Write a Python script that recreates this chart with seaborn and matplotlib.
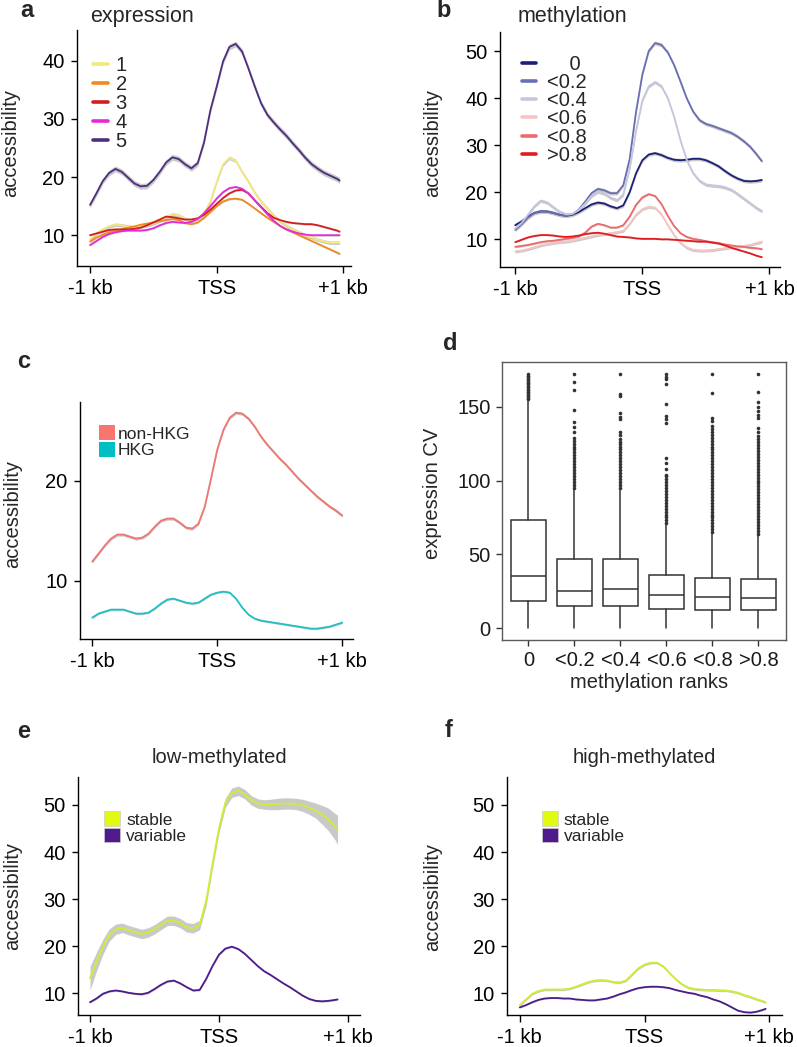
import numpy as np
import pandas as pd
import matplotlib
matplotlib.use("Agg")
import matplotlib.pyplot as plt
import seaborn as sns
from matplotlib.lines import Line2D
from matplotlib.patches import Patch

sns.set_style("ticks")
plt.rcParams['font.family'] = ['Liberation Sans', 'DejaVu Sans']

# --- data ---
pos = list(range(-1000, 901, 50))

# a: accessibility by expression level
x_a = pos + [950, 970]
expr_names = ['1', '2', '3', '4', '5']
expr_colors = ['#f5e97a', '#f08a1c', '#d41e1e', '#e42ad8', '#4f2d7f']
expr1 = [9.3, 10.3, 11.0, 11.5, 11.8, 11.7, 11.5, 11.4, 11.5, 11.7, 12.0, 12.5, 13.1, 13.6, 13.4, 12.8, 12.5, 12.9,
         13.8, 15.8, 19.2, 22.2, 23.3, 22.8, 20.9, 19.2, 17.3, 15.8, 14.6, 13.4, 12.4, 11.6, 11.0, 10.5, 10.0, 9.6,
         9.2, 8.9, 8.7, 8.7, 8.7]
expr2 = [8.9, 9.6, 10.1, 10.5, 10.8, 11.0, 11.3, 11.5, 11.8, 12.0, 12.2, 12.4, 12.6, 12.8, 12.6, 12.1, 11.9, 12.2,
         13.0, 14.0, 15.0, 15.8, 16.2, 16.3, 16.1, 15.4, 14.6, 13.8, 13.0, 12.3, 11.6, 11.0, 10.5, 10.0, 9.5, 9.0,
         8.5, 8.0, 7.5, 7.0, 6.8]
expr3 = [10.0, 10.3, 10.6, 10.9, 11.0, 11.0, 11.0, 11.1, 11.3, 11.7, 12.2, 12.7, 13.2, 13.1, 12.9, 12.7, 12.7, 12.9,
         13.5, 14.4, 15.4, 16.4, 17.2, 17.7, 17.8, 17.2, 16.0, 14.9, 13.8, 13.0, 12.6, 12.3, 12.1, 12.0, 11.9, 11.9,
         11.7, 11.4, 11.1, 10.8, 10.6]
expr4 = [8.3, 9.0, 9.7, 10.2, 10.5, 10.7, 10.8, 10.8, 10.8, 10.9, 11.2, 11.7, 12.1, 12.3, 12.2, 12.1, 12.3, 12.8,
         13.8, 15.0, 16.3, 17.4, 18.1, 18.3, 18.0, 17.2, 16.0, 14.8, 13.6, 12.5, 11.6, 11.0, 10.6, 10.3, 10.1, 10.0,
         10.0, 10.0, 10.0, 10.0, 10.0]
expr5 = [15.2, 17.2, 19.3, 20.7, 21.4, 20.9, 19.9, 18.9, 18.4, 18.5, 19.5, 20.9, 22.5, 23.4, 23.1, 22.2, 21.5, 22.4,
         26.0, 31.5, 35.6, 39.9, 42.4, 42.9, 41.6, 38.7, 35.6, 32.7, 30.7, 29.4, 28.2, 27.1, 25.8, 24.6, 23.3, 22.2,
         21.4, 20.7, 20.2, 19.7, 19.4]
expr_se = [0.3, 0.15, 0.15, 0.15, 0.5]

# b: accessibility by methylation level
x_b = pos + [940]
meth_names = ['    0', '<0.2', '<0.4', '<0.6', '<0.8', '>0.8']
meth_colors = ['#1c1f7a', '#6a6eb3', '#c5c7e0', '#f6c4c4', '#ee6a6a', '#e31a1c']
meth0 = [13.0, 13.8, 14.8, 15.6, 15.9, 15.9, 15.6, 15.2, 15.0, 15.2, 15.8, 16.6, 17.4, 17.8, 17.6, 17.0, 16.6, 17.2,
         20.0, 24.0, 26.8, 28.0, 28.3, 27.9, 27.3, 26.9, 26.8, 26.9, 27.1, 27.1, 26.8, 26.2, 25.5, 24.5, 23.6, 22.9,
         22.4, 22.3, 22.4, 22.6]
meth02 = [12.0, 13.2, 14.6, 15.6, 16.0, 15.9, 15.6, 15.2, 15.0, 15.3, 16.3, 18.0, 19.8, 20.7, 20.4, 19.8, 19.8, 21.5,
          27.0, 37.0, 45.0, 50.0, 51.7, 51.3, 49.7, 47.0, 43.5, 39.9, 37.1, 35.3, 34.5, 34.1, 33.6, 33.1, 32.6, 31.8,
          30.8, 29.6, 28.0, 26.6]
meth04 = [12.3, 13.5, 15.2, 17.0, 18.2, 17.8, 16.8, 15.8, 15.3, 15.4, 16.2, 17.6, 19.2, 20.1, 19.7, 18.8, 18.3, 19.5,
          25.0, 33.0, 39.5, 42.5, 43.4, 42.5, 40.0, 36.0, 31.0, 26.8, 24.0, 22.4, 21.6, 21.4, 21.3, 21.0, 20.5, 19.6,
          18.6, 17.6, 16.6, 16.0]
meth06 = [7.4, 7.6, 7.9, 8.3, 8.7, 9.0, 9.2, 9.4, 9.5, 9.7, 10.0, 10.3, 10.6, 10.9, 11.1, 11.3, 11.5, 11.8,
          13.3, 15.2, 16.4, 16.9, 16.7, 15.3, 13.0, 10.9, 9.2, 8.2, 7.7, 7.6, 7.6, 7.7, 7.9, 8.1, 8.3, 8.4,
          8.6, 8.8, 9.2, 9.5]
meth08 = [8.4, 8.6, 8.8, 9.1, 9.4, 9.6, 9.7, 9.9, 10.1, 10.3, 10.6, 11.4, 12.7, 13.3, 13.0, 12.5, 12.5, 13.0,
          14.8, 17.3, 18.9, 19.6, 19.2, 17.5, 15.0, 12.8, 11.3, 10.5, 10.1, 9.9, 9.6, 9.4, 9.2, 8.9, 8.7, 8.5,
          8.4, 8.2, 8.1, 7.9]
meth1 = [9.4, 9.9, 10.4, 10.7, 10.9, 10.9, 10.8, 10.6, 10.5, 10.6, 10.8, 11.1, 11.3, 11.4, 11.2, 10.9, 10.6, 10.5,
         10.4, 10.2, 10.1, 10.1, 10.1, 10.0, 10.0, 9.9, 9.8, 9.7, 9.6, 9.5, 9.5, 9.3, 9.1, 8.7, 8.2, 7.8,
         7.4, 7.0, 6.5, 6.2]
meth_se = [0.4, 0.4, 0.35, 0.3, 0.2, 0.15]

# c: housekeeping vs non-housekeeping genes
x_c = pos + [950, 1000]
hkg_names = ['non-HKG', 'HKG']
hkg_colors = ['#ee7870', '#22bfc5']
hkg_patch = ['#f8766d', '#00bfc4']
nonhkg = [11.9, 12.7, 13.5, 14.2, 14.6, 14.6, 14.4, 14.2, 14.3, 14.7, 15.4, 16.0, 16.2, 16.2, 15.8, 15.3, 15.2, 15.7,
          17.4, 20.2, 23.1, 25.1, 26.3, 26.8, 26.7, 26.2, 25.4, 24.4, 23.6, 22.9, 22.2, 21.6, 20.9, 20.2, 19.6, 19.0,
          18.4, 17.9, 17.4, 17.0, 16.5]
hkg = [6.3, 6.7, 6.9, 7.1, 7.1, 7.1, 6.9, 6.7, 6.7, 6.8, 7.2, 7.7, 8.1, 8.2, 8.0, 7.8, 7.7, 7.8,
       8.2, 8.6, 8.8, 8.9, 8.8, 8.2, 7.3, 6.6, 6.2, 6.0, 5.9, 5.8, 5.7, 5.6, 5.5, 5.4, 5.3, 5.2,
       5.2, 5.3, 5.4, 5.6, 5.8]
hkg_se = [0.15, 0.1]

# d: expression CV by methylation rank (box statistics)
ranks = ['0', '<0.2', '<0.4', '<0.6', '<0.8', '>0.8']
cv_q1 = [18.5, 15.3, 15.1, 13.3, 12.4, 12.2]
cv_med = [35.1, 25.5, 26.8, 22.3, 20.9, 20.3]
cv_q3 = [73.6, 47.1, 46.8, 36.3, 33.8, 33.3]
cv_lo = [0, 0, 0, 0, 0, 0]
cv_hi = [154, 94, 94, 70, 64, 63]
cv_fliers = [
    [155, 156, 157, 158, 159, 160, 161, 162, 163, 164, 165, 166, 167, 168, 169, 170, 171, 172],
    [95, 97, 99, 101, 103, 105, 107, 109, 111, 113, 115, 117, 119, 121, 123, 125, 127, 129, 133, 136, 139.5,
     147.5, 161.5, 166.5, 172],
    [95, 97, 99, 101, 103, 105, 107, 109, 111, 113, 115, 117, 119, 121, 123, 125, 126, 128, 131, 133, 141.5,
     143, 145.5, 157, 158.5, 172],
    [71, 73, 75, 77, 79, 81, 83, 85, 87, 89, 91, 93, 95, 97, 99, 101, 103, 104, 108, 112, 115, 139, 141.5,
     143.5, 152, 165, 168.5, 170, 172],
    [65, 67, 69, 71, 73, 75, 77, 79, 81, 83, 85, 87, 89, 91, 93, 95, 97, 99, 101, 103, 105, 107, 109, 111,
     113, 115, 117, 119, 121, 123, 125, 127, 129, 131, 133, 135, 137, 140, 142.5, 159.5, 172],
    [64, 66, 68, 70, 72, 74, 76, 78, 80, 82, 84, 86, 88, 90, 92, 94, 96, 98, 100, 102, 104, 106, 108, 110,
     112, 114, 116, 118, 120, 122, 124, 126, 128, 130, 133, 135.5, 142, 144, 147, 150, 153, 160, 172],
]

# e/f: stable vs variable genes, low and high methylation
var_names = ['stable', 'variable']
var_colors = ['#d4ec30', '#4d1c8a']
var_patch = ['#e0fb10', '#4f1a8c']
x_e = pos + [920]
low_stable = [13.2, 16.7, 19.9, 22.4, 23.6, 23.9, 23.4, 23.0, 22.6, 22.9, 23.6, 24.5, 25.4, 25.4, 24.9, 24.0, 23.8,
              24.5, 29.5, 37.5, 45.0, 50.5, 52.6, 53.0, 52.3, 51.0, 50.3, 50.1, 50.1, 50.2, 50.3, 50.3, 50.2, 49.9,
              49.4, 48.8, 47.9, 46.9, 45.4, 44.7]
low_stable_se = [2.5, 2.0, 1.6, 1.3, 1.1, 1.0, 1.0, 1.0, 1.0, 1.0, 1.0, 1.0, 1.0, 1.0, 1.0, 1.0, 1.0,
                 1.0, 1.0, 1.0, 1.0, 1.0, 1.0, 1.0, 1.0, 1.0, 1.0, 1.0, 1.1, 1.2, 1.2, 1.2, 1.2, 1.3,
                 1.4, 1.6, 2.0, 2.4, 2.8, 3.1]
low_variable = [8.1, 8.9, 9.9, 10.4, 10.6, 10.4, 10.1, 9.9, 9.8, 10.1, 10.9, 11.8, 12.5, 12.7, 12.1, 11.3, 10.6,
                10.7, 13.0, 15.8, 18.2, 19.5, 19.9, 19.4, 18.4, 17.1, 15.8, 14.7, 13.9, 13.0, 12.1, 11.3, 10.4,
                9.5, 8.8, 8.4, 8.3, 8.4, 8.6, 8.7]
x_f = pos + [950, 970]
high_stable = [7.5, 8.7, 9.9, 10.5, 10.8, 10.8, 10.8, 10.8, 11.0, 11.4, 11.9, 12.4, 12.7, 12.8, 12.7, 12.4, 12.3,
               12.7, 14.0, 15.3, 16.1, 16.5, 16.5, 15.7, 14.3, 13.0, 11.9, 11.2, 10.9, 10.8, 10.7, 10.7, 10.6,
               10.6, 10.4, 10.1, 9.6, 9.2, 8.7, 8.3, 8.1]
high_variable = [7.0, 7.5, 8.1, 8.6, 8.9, 9.0, 9.0, 8.9, 8.9, 8.7, 8.6, 8.5, 8.5, 8.7, 8.9, 9.3, 9.8,
                 10.2, 10.7, 11.1, 11.3, 11.4, 11.4, 11.3, 11.1, 10.7, 10.4, 10.1, 9.9, 9.5, 9.2, 8.7, 8.3,
                 7.7, 7.0, 6.3, 6.0, 5.9, 6.1, 6.5, 6.7]

FS = 14.5
LFS = 12.5
W, H = 797, 1047
fig = plt.figure(figsize=(W / 100, H / 100), dpi=100)


def box(l, t, r, b):
    return [l / W, 1 - b / H, (r - l) / W, (b - t) / H]


def profile(ax, x, series, names, colors, se, xlim, ylim, yticks, ylab_x, ylab_y=0.5):
    frames = [pd.DataFrame({'pos': x, 'acc': vals, 'group': name}) for name, vals in zip(names, series)]
    df = pd.concat(frames, ignore_index=True)
    for vals, s in zip(series, se):
        v = np.asarray(vals)
        ax.fill_between(x, v - np.asarray(s), v + np.asarray(s), color='#c9c9c9', lw=0, zorder=1)
    sns.lineplot(data=df, x='pos', y='acc', hue='group', hue_order=names,
                 palette=dict(zip(names, colors)), errorbar=None, legend=False,
                 linewidth=1.3, ax=ax, zorder=2)
    ax.set_xlim(xlim)
    ax.set_ylim(ylim)
    ax.set_xticks([-1000, 0, 1000])
    ax.set_xticklabels(['-1 kb', 'TSS', '+1 kb'])
    ax.set_yticks(yticks)
    ax.set_xlabel('')
    ax.set_ylabel('accessibility', fontsize=FS)
    ax.yaxis.set_label_coords(ylab_x, ylab_y)
    sns.despine(ax=ax)
    for s in ['left', 'bottom']:
        ax.spines[s].set_linewidth(1.0)
        ax.spines[s].set_color('black')
    ax.tick_params(axis='x', length=5, width=1.0, pad=4.5, labelsize=FS, colors='black')
    ax.tick_params(axis='y', length=4, width=1.0, pad=5, labelsize=FS, colors='black')


# --- a ---
ax_a = fig.add_axes(box(77, 30, 351, 266))
profile(ax_a, x_a, [expr1, expr2, expr3, expr4, expr5], expr_names, expr_colors, expr_se,
        (-1103, 1060), (4.7, 45.3), [10, 20, 30, 40], -0.208, 0.523)
ax_a.legend(handles=[Line2D([], [], color=c, lw=2.6) for c in expr_colors], labels=expr_names,
            loc='upper left', bbox_to_anchor=(0.0586, 0.89), frameon=False, fontsize=FS,
            handlelength=0.72, handletextpad=0.4, labelspacing=0.0, borderpad=0, borderaxespad=0)

# --- b ---
ax_b = fig.add_axes(box(500, 31.7, 780, 266.7))
profile(ax_b, x_b, [meth0, meth02, meth04, meth06, meth08, meth1], meth_names, meth_colors, meth_se,
        (-1120, 1083), (4.18, 54.1), [10, 20, 30, 40, 50], -0.208, 0.528)
ax_b.legend(handles=[Line2D([], [], color=c, lw=2.6) for c in meth_colors], labels=meth_names,
            loc='upper left', bbox_to_anchor=(0.0775, 0.90), frameon=False, fontsize=FS,
            handlelength=0.69, handletextpad=0.55, labelspacing=-0.045, borderpad=0, borderaxespad=0)

# --- c ---
ax_c = fig.add_axes(box(80, 401.7, 353, 639.3))
profile(ax_c, x_c, [nonhkg, hkg], hkg_names, hkg_colors, hkg_se,
        (-1098, 1086), (4.13, 27.9), [10, 20], -0.2135, 0.527)
ax_c.legend(handles=[Patch(facecolor=c, edgecolor='none') for c in hkg_patch], labels=hkg_names,
            loc='upper left', bbox_to_anchor=(0.0707, 0.9), frameon=False, fontsize=LFS,
            handlelength=0.92, handleheight=0.95, handletextpad=0.12, labelspacing=0.0,
            borderpad=0, borderaxespad=0)

# --- d ---
ax_d = fig.add_axes(box(501.7, 361.7, 786, 640))
stats = [dict(label=r, q1=a, med=m, q3=b, whislo=lo, whishi=hi, fliers=fl)
         for r, a, m, b, lo, hi, fl in zip(ranks, cv_q1, cv_med, cv_q3, cv_lo, cv_hi, cv_fliers)]
ec = '#333333'
ax_d.bxp(stats, positions=range(len(ranks)), widths=0.76, showcaps=False, patch_artist=True,
         boxprops=dict(facecolor='white', edgecolor=ec, linewidth=1.1),
         medianprops=dict(color=ec, linewidth=1.1),
         whiskerprops=dict(color=ec, linewidth=1.1),
         flierprops=dict(marker='o', markersize=2.6, markerfacecolor=ec, markeredgecolor='none'))
ax_d.set_xlim(-0.58, 5.6)
ax_d.set_ylim(-7.9, 180.4)
ax_d.set_yticks([0, 50, 100, 150])
ax_d.set_xticks(range(len(ranks)))
ax_d.set_xticklabels(ranks)
for s in ax_d.spines.values():
    s.set_color('#5a5a5a')
    s.set_linewidth(1.0)
ax_d.tick_params(axis='both', length=4, width=1.0, color='#333333', labelsize=FS, labelcolor='#1a1a1a', pad=4)
ax_d.set_ylabel('expression CV', fontsize=FS)
ax_d.yaxis.set_label_coords(-0.211, 0.528)
ax_d.set_xlabel('methylation ranks', fontsize=FS)
ax_d.xaxis.set_label_coords(0.518, -0.12)

# --- e / f ---
ax_e = fig.add_axes(box(78.3, 776.7, 360, 1015))
profile(ax_e, x_e, [low_stable, low_variable], var_names, var_colors, [low_stable_se, 0.2],
        (-1091, 1094), (5.39, 56.0), [10, 20, 30, 40, 50], -0.201, 0.5)
ax_e.set_title('low-methylated', fontsize=FS, pad=10)

ax_f = fig.add_axes(box(507.3, 776.7, 781.7, 1015))
profile(ax_f, x_f, [high_stable, high_variable], var_names, var_colors, [0.25, 0.15],
        (-1100, 1099), (5.39, 56.0), [10, 20, 30, 40, 50], -0.239, 0.494)
ax_f.set_title('high-methylated', fontsize=FS, pad=10)

for ax, bx in [(ax_e, 0.0912), (ax_f, 0.1254)]:
    ax.legend(handles=[Patch(facecolor=c, edgecolor='#cccccc', linewidth=0.5) for c in var_patch],
              labels=var_names, loc='upper left', bbox_to_anchor=(bx, 0.855), frameon=False, fontsize=LFS,
              handlelength=0.92, handleheight=0.92, handletextpad=0.35, labelspacing=0.0,
              borderpad=0, borderaxespad=0)

# panel titles and letters
fig.text(90 / W, 1 - 22 / H, 'expression', fontsize=FS + 1, va='baseline')
fig.text(518 / W, 1 - 22 / H, 'methylation', fontsize=FS + 1, va='baseline')
for letter, px, py in [('a', 20, 17), ('b', 436, 17), ('c', 17, 368), ('d', 443, 350), ('e', 17, 738), ('f', 445, 737)]:
    fig.text(px / W, 1 - py / H, letter, fontsize=17, fontweight='bold', va='baseline')

fig.savefig('out.png', dpi=100)
